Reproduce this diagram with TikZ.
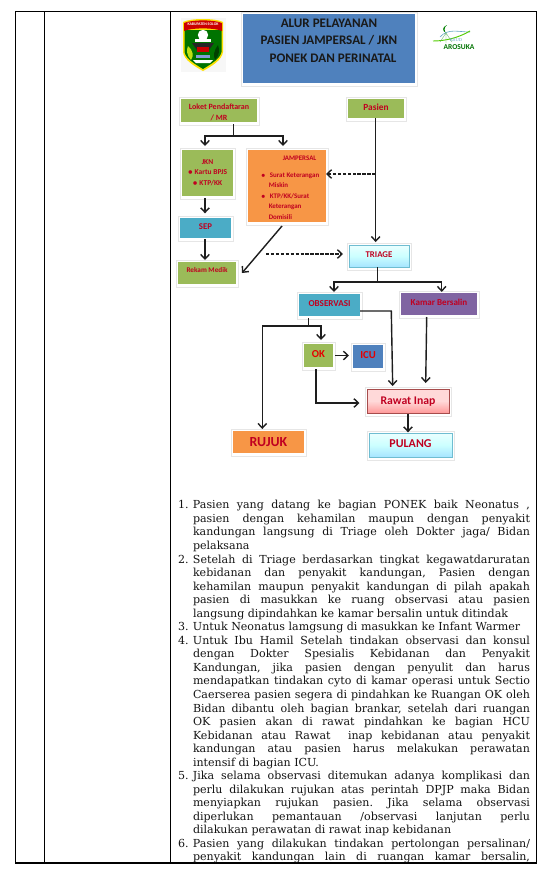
\documentclass[tikz,border=0pt]{standalone}
\usepackage{fontspec}
\setmainfont{DejaVu Serif}
\newfontfamily\boxfont{Carlito}[FontFace={b}{n}{Carlito Bold}]
\usetikzlibrary{arrows.meta}
\definecolor{bxgreen}{HTML}{9BBB59}
\definecolor{bxblue}{HTML}{4F81BD}
\definecolor{bxteal}{HTML}{4BACC6}
\definecolor{bxorange}{HTML}{F79646}
\definecolor{bxpurple}{HTML}{8064A2}
\definecolor{bxred}{HTML}{C00020}
\definecolor{lineblk}{HTML}{1E1E1E}
\definecolor{framegray}{HTML}{E6E6E6}
\tikzset{
  x=0.75pt,y=-0.75pt,
  conn/.style={draw=lineblk,line width=1.05pt,-{Straight Barb[length=3.4pt,width=6.4pt,line width=1.05pt]}},
  connplain/.style={draw=lineblk,line width=1.05pt},
  dconn/.style={conn,dash pattern=on 2.6pt off 1.1pt},
  tablerule/.style={draw=black,line width=0.8pt},
  boxtext/.style={text=bxred,inner sep=0pt,outer sep=0pt,align=center},
  paleblue/.style={top color=white!80!cyan!40,bottom color=cyan!70!blue!35,middle color=cyan!20,draw=bxteal!80,line width=0.7pt},
  palered/.style={top color=white!85!red,bottom color=red!40,middle color=red!15,draw=red!50!black!70,line width=0.7pt},
  bodytext/.style={inner sep=0pt,outer sep=0pt,text width=252.75pt,align=justify,text=black!92,anchor=north west},
}
\newcommand{\bodyfont}{\fontsize{8.3pt}{10.155pt}\selectfont}
% name x0 y0 x1 y1 style baseline-y size text
\newcommand{\flowbox}[9]{%
  \path[fill=white,draw=framegray,line width=0.5pt] (#2-2,#3-2) rectangle (#4+2,#5+3);
  \pgfmathsetlengthmacro\bxh{(#7-#3)*0.75pt}%
  \pgfmathsetlengthmacro\bxd{(#5-#7)*0.75pt}%
  \pgfmathsetlengthmacro\bxw{(#4-#2)*0.75pt}%
  \node[boxtext,font=\boxfont\bfseries\fontsize{#8pt}{8pt}\selectfont,#6,minimum width=\bxw,text height=\bxh,text depth=\bxd] (#1) at ({(#2+#4)/2},{(#3+#5)/2}) {#9};
}
\newcommand{\itemnum}[1]{\noindent\llap{\makebox[11.25pt][l]{#1}}}
\begin{document}
\begin{tikzpicture}
\useasboundingbox (0,0) rectangle (547,872);
\fill[white] (0,0) rectangle (547,872);
% table
\draw[tablerule] (15.5,11.5) rectangle (536.5,863);
\draw[tablerule] (44.5,11.5) -- (44.5,863);
\draw[tablerule] (170.5,11.5) -- (170.5,863);

% left crest
\fill[black!3] (181,18) rectangle (226,72);
\fill[yellow!85!orange] (183,22) .. controls (190,18) and (216,18) .. (223,22) -- (223,52) .. controls (222,60) and (212,66) .. (203,71) .. controls (194,66) and (184,60) .. (183,52) -- cycle;
\fill[green!45!black] (184.5,30) -- (221.5,30) -- (221.5,52) .. controls (220,59) and (211,64) .. (203,69) .. controls (195,64) and (186,59) .. (184.5,52) -- cycle;
\fill[red!80!black] (184,23) .. controls (192,19.5) and (214,19.5) .. (222,23) -- (222,31) .. controls (214,27.5) and (192,27.5) .. (184,31) -- cycle;
\node[text=white,inner sep=0pt,font=\boxfont\bfseries\fontsize{2.9pt}{3pt}\selectfont] (crestname) at (203,24.5) {KABUPATEN SOLOK};
\fill[white] (203,35) circle (5.2);
\fill[white] (195,39) rectangle (211,42);
\fill[black!85] (192,43) -- (214,43) -- (209,50) -- (197,50) -- cycle;
\fill[red!80!black] (197,47) rectangle (209,52);
\fill[yellow!75!green] (188,46) .. controls (193,50) and (194,56) .. (191,60) .. controls (187,56) and (186,50) .. (188,46) -- cycle;
\fill[green!25!black] (218,45) .. controls (220,50) and (219,56) .. (215,60) .. controls (213,56) and (214,50) .. (218,45) -- cycle;
\fill[cyan!40!blue!50!white] (196,55) rectangle (210,58);
\fill[white] (193,60) -- (213,60) -- (210,63) -- (196,63) -- cycle;

% right logo
\fill[green!50!black] (447,25) .. controls (442,27) and (442,31) .. (446,33) .. controls (444,31) and (444,27) .. cycle;
\draw[cyan!50!gray,line width=0.45pt] (440,37) .. controls (448,28) and (458,32) .. (470,32);
\draw[green!60!yellow!80!black,line width=0.7pt] (433,41) .. controls (445,41) and (458,38) .. (470,31);
\draw[green!50!black!60,line width=0.3pt] (446,33) -- (440,42) (446,33) -- (446,43) (446,33) -- (452,42);
\node[text=cyan!50!gray,inner sep=0pt,font=\fontsize{3pt}{3pt}\selectfont] (rsud) at (456,40.5) {RSUD};
\node[text=green!45!black,inner sep=0pt,font=\boxfont\bfseries\fontsize{5.6pt}{7pt}\selectfont] (arosuka) at (459,47) {AROSUKA};

% title
\flowbox{title}{243}{14}{415}{83}{fill=bxblue,text=black!90,font=\boxfont\bfseries\fontsize{9.8pt}{12.8pt}\selectfont}{62}{8}{ALUR PELAYANAN\\PASIEN JAMPERSAL / JKN\\\hspace*{6pt}PONEK DAN PERINATAL}

% boxes
\flowbox{loket}{181}{99}{257}{122}{fill=bxgreen,font=\boxfont\bfseries\fontsize{6pt}{8.1pt}\selectfont}{120}{6}{Loket Pendaftaran\\/ MR}
\flowbox{pasien}{348}{99}{404}{118}{fill=bxgreen}{110}{7}{Pasien}
\flowbox{jkn}{182}{150}{233}{196}{fill=bxgreen,font=\boxfont\bfseries\fontsize{5.6pt}{7.9pt}\selectfont}{185.5}{5.6}{JKN\\$\bullet$ Kartu BPJS\\$\bullet$ KTP/KK}
\flowbox{jampersal}{248}{150}{326}{222}{fill=bxorange,align=left,font=\boxfont\bfseries\fontsize{5.2pt}{7.85pt}\selectfont}{219}{5.2}{\hspace*{21pt}JAMPERSAL\\[5pt]\hspace*{4.5pt}$\bullet$\hspace{3.2pt}Surat Keterangan\\\hspace*{10.5pt}Miskin\\\hspace*{4.5pt}$\bullet$\hspace{3.2pt}KTP/KK/Surat\\\hspace*{10.5pt}Keterangan\\\hspace*{10.5pt}Domisili}
\flowbox{sep}{180}{218}{231}{238}{fill=bxteal}{229}{6.6}{SEP}
\flowbox{rekam}{178}{262}{236}{284}{fill=bxgreen}{272}{5.4}{Rekam Medik}
\flowbox{triage}{349}{245}{409}{267}{paleblue}{257}{6.6}{TRIAGE}
\flowbox{observasi}{299}{294}{360}{316}{fill=bxteal}{306}{6.8}{OBSERVASI}
\flowbox{kamar}{401}{293}{477}{315}{fill=bxpurple}{305}{6.8}{Kamar Bersalin}
\flowbox{ok}{304}{344}{333}{367}{fill=bxgreen,text=red!90!black}{357}{8}{OK}
\flowbox{icu}{353}{345}{383}{368}{fill=bxblue,text=red!90!black}{358.5}{8}{ICU}
\flowbox{rawat}{367}{389}{449}{413}{palered}{404}{8.8}{Rawat Inap}
\flowbox{rujuk}{233}{431}{304}{453}{fill=bxorange}{446.5}{10.4}{RUJUK}
\flowbox{pulang}{369}{433}{452}{457}{paleblue}{447}{9}{PULANG}

% named junctions
\coordinate (loketdrop) at (233.3,136);
\coordinate (jknx) at (205,136);
\coordinate (jamx) at (283,136);
\coordinate (pasienx) at (375.7,174);
\coordinate (triagedrop) at (377.7,282);
\coordinate (obsx) at (334,282);
\coordinate (kamx) at (441.7,282);
\coordinate (obsdrop) at (308.3,326);
\coordinate (okx) at (321,326);
\coordinate (rujx) at (262.3,326);
\coordinate (obscorner) at (391.3,311);
\coordinate (rawatin) at (392.7,386);
\coordinate (okdrop) at (316,403);
\coordinate (rawatleft) at (359.5,403);
\coordinate (dashstart) at (266,254);
\coordinate (dashend) at (343,254);
\coordinate (jamtop) at (282,226);
\coordinate (rekamin) at (242,273);
\coordinate (kamtop) at (426.7,317);
\coordinate (kamend) at (425.7,383);

% connectors
\draw[connplain] (loket.south -| loketdrop) ++(0,2) -- (loketdrop);
\draw[conn,shorten >=3pt] (loketdrop) -- (jknx) -- (jkn.north -| jknx);
\draw[conn,shorten >=3pt] (loketdrop) -- (jamx) -- (jampersal.north -| jamx);
\draw[conn,shorten >=2.2pt] (pasien.south -| pasienx) -- (triage.north -| pasienx);
\draw[dconn] (pasienx) -- (jampersal.east |- pasienx);
\draw[conn,shorten >=3.5pt,shorten <=1.5pt] (jkn.south -| jknx) -- (sep.north -| jknx);
\draw[conn,shorten >=1.5pt,shorten <=1pt] (sep.south -| jknx) -- (rekam.north -| jknx);
\draw[conn] (jamtop) -- (rekamin);
\draw[dconn] (dashstart) -- (dashend);
\draw[connplain] (triage.south -| triagedrop) -- (triagedrop);
\draw[conn,shorten >=1.5pt] (triagedrop) -- (obsx) -- (observasi.north -| obsx);
\draw[conn,shorten >=0.8pt] (triagedrop) -- (kamx) -- (kamar.north -| kamx);
\draw[conn] (observasi.east |- obscorner) -- (obscorner) -- (rawatin);
\draw[connplain,shorten <=1.5pt] (observasi.south -| obsdrop) -- (obsdrop);
\draw[conn,shorten >=3pt] (obsdrop) -- (okx) -- (ok.north -| okx);
\draw[conn,shorten >=1.5pt] (obsdrop) -- (rujx) -- (rujuk.north -| rujx);
\draw[conn,shorten <=1.5pt,shorten >=3pt] (ok.east |- 0,355.5) -- (icu.west |- 0,355.5);
\draw[conn,shorten <=1.5pt] (ok.south -| okdrop) -- (okdrop) -- (rawatleft);
\draw[conn] (kamtop) -- (kamend);
\draw[conn,shorten <=0.8pt,shorten >=0.5pt] (rawat.south) -- (rawat.south |- pulang.north);

% body text
\node[bodytext,font=\bodyfont] (bodylist) at (193,500.5) {%
\frenchspacing\tolerance=10000\hbadness=10000\hfuzz=3pt
\itemnum{1.}Pasien yang datang ke bagian PONEK baik Neonatus ,\linebreak
pasien dengan kehamilan maupun dengan penyakit\linebreak
kandungan langsung di Triage oleh Dokter jaga/ Bidan\linebreak
pelaksana\par
\itemnum{2.}Setelah di Triage berdasarkan tingkat kegawatdaruratan\linebreak
kebidanan dan penyakit kandungan, Pasien dengan\linebreak
kehamilan maupun penyakit kandungan di pilah apakah\linebreak
pasien di masukkan ke ruang observasi atau pasien\linebreak
langsung dipindahkan ke kamar bersalin untuk ditindak\par
\itemnum{3.}Untuk Neonatus lamgsung di masukkan ke Infant Warmer\par
\itemnum{4.}Untuk Ibu Hamil Setelah tindakan observasi dan konsul\linebreak
dengan Dokter Spesialis Kebidanan dan Penyakit\linebreak
Kandungan, jika pasien dengan penyulit dan harus\linebreak
mendapatkan tindakan cyto di kamar operasi untuk Sectio\linebreak
Caerserea pasien segera di pindahkan ke Ruangan OK oleh\linebreak
Bidan dibantu oleh bagian brankar, setelah dari ruangan\linebreak
OK pasien akan di rawat pindahkan ke bagian HCU\linebreak
Kebidanan atau Rawat\ \ inap kebidanan atau penyakit\linebreak
kandungan atau pasien harus melakukan perawatan\linebreak
intensif di bagian ICU.\par
\itemnum{5.}Jika selama observasi ditemukan adanya komplikasi dan\linebreak
perlu dilakukan rujukan atas perintah DPJP maka Bidan\linebreak
menyiapkan rujukan pasien. Jika selama observasi\linebreak
diperlukan pemantauan /observasi lanjutan perlu\linebreak
dilakukan perawatan di rawat inap kebidanan\par
\itemnum{6.}Pasien yang dilakukan tindakan pertolongan persalinan/\linebreak
penyakit kandungan lain di ruangan kamar bersalin,\linebreak
};
\end{tikzpicture}
\end{document}
